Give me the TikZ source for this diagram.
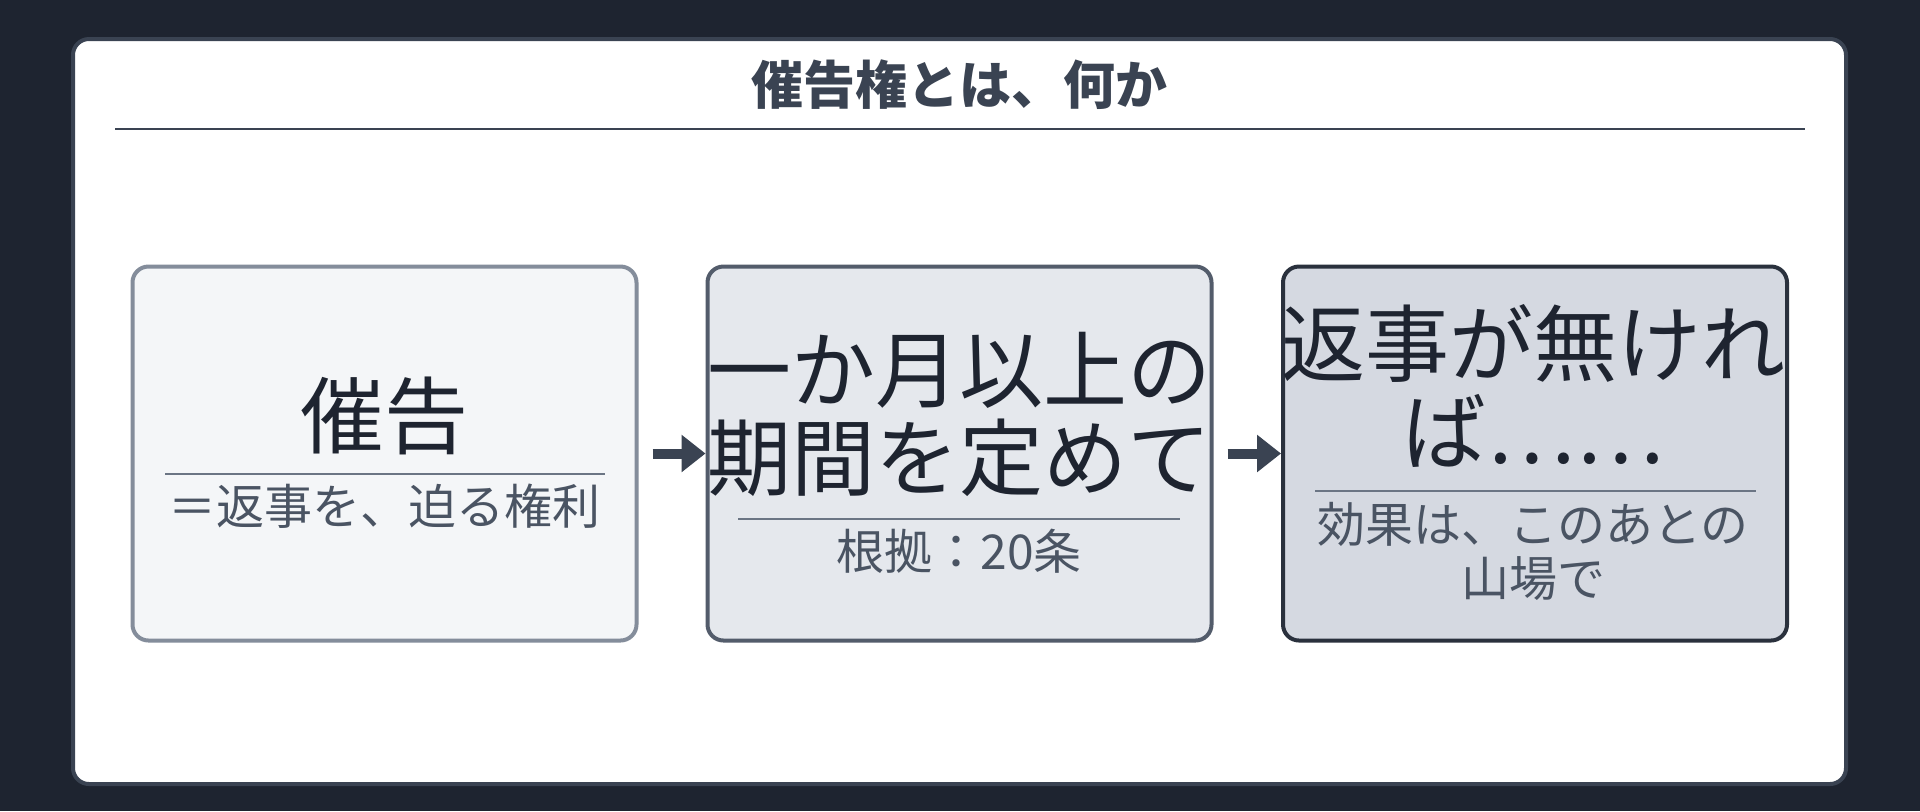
\documentclass[tikz,border=0pt]{standalone}
\usepackage{fontspec}
\setmainfont{Noto Sans CJK JP}
\usetikzlibrary{arrows.meta}
\definecolor{bgdark}{HTML}{1E2430}
\definecolor{panelline}{HTML}{3A4352}
\definecolor{inkmain}{HTML}{1E2430}
\definecolor{inksub}{HTML}{4A5463}
\definecolor{sepline}{HTML}{6B7584}
\definecolor{fillA}{HTML}{F4F6F8}
\definecolor{drawA}{HTML}{848D9B}
\definecolor{fillB}{HTML}{E5E8ED}
\definecolor{drawB}{HTML}{535C6B}
\definecolor{fillC}{HTML}{D5D9E1}
\definecolor{drawC}{HTML}{2A313D}

\begin{document}
\begin{tikzpicture}[x=0.5pt,y=-0.5pt,
  stage/.style={rounded corners=8pt,line width=2pt,minimum width=252pt,minimum height=187pt,inner sep=0pt},
  big/.style={text=inkmain,align=center,font=\fontsize{42}{44}\selectfont},
  small/.style={text=inksub,align=center,font=\fontsize{24}{27}\selectfont},
  flow/.style={-{Triangle[length=12pt,width=18pt]},line width=5pt,draw=panelline,shorten <=7pt}]
\fill[bgdark] (0,0) rectangle (1920,811);
\useasboundingbox (0,0) rectangle (1920,811);
\draw[panelline,fill=white,line width=2pt,rounded corners=8pt] (73,39) rectangle (1846,784);
\node[text=panelline,font=\fontsize{26}{28}\selectfont\bfseries] (title) at (959,85) {催告権とは、何か};
\draw[panelline,line width=1.2pt] (115,129) -- (1805,129);

\node[stage,fill=fillA,draw=drawA] (boxA) at (384.5,453.5) {};
\node[stage,fill=fillB,draw=drawB] (boxB) at (959.5,453.5) {};
\node[stage,fill=fillC,draw=drawC] (boxC) at (1535,453.5) {};

\node[big] (mainA) at (384,416) {催告};
\draw[sepline,line width=1pt] (165,474) -- (605,474);
\node[small] (subA) at (384,506) {＝返事を、迫る権利};

\node[big] (mainB) at (959,414) {一か月以上の\\期間を定めて};
\draw[sepline,line width=1pt] (738,519) -- (1180,519);
\node[small] (subB) at (959,551) {根拠：20条};

\node[big] (mainC) at (1533,386) {返事が無けれ\\ば……};
\draw[sepline,line width=1pt] (1315,491) -- (1756,491);
\node[small] (subC) at (1533,551) {効果は、このあとの\\山場で};

\draw[flow] (boxA) -- (boxB);
\draw[flow] (boxB) -- (boxC);
\end{tikzpicture}
\end{document}
